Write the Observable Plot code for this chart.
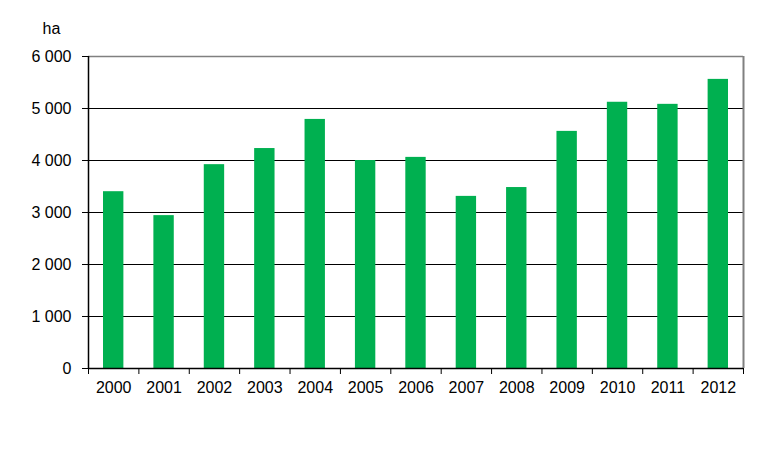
<!DOCTYPE html>
<html>
<head>
<meta charset="utf-8">
<script src="https://cdn.jsdelivr.net/npm/d3@7"></script>
<script src="https://cdn.jsdelivr.net/npm/@observablehq/plot@0.6"></script>
<style>
  html, body { margin: 0; padding: 0; background: #fff; }
  svg { display: block; }
</style>
</head>
<body>
<div id="chart"></div>
<script>
const years = [2000, 2001, 2002, 2003, 2004, 2005, 2006, 2007, 2008, 2009, 2010, 2011, 2012];
const values = [3400, 2940, 3920, 4230, 4790, 4000, 4060, 3310, 3480, 4560, 5120, 5080, 5560];
const yTicks = [0, 1000, 2000, 3000, 4000, 5000, 6000];
const unitLabel = "ha";

const data = years.map((y, i) => ({year: y, value: values[i]}));
const boundaries = years.map(y => y - 0.5).concat([years[years.length - 1] + 0.5]);
const fmt = d => d3.format(",")(d).replace(/,/g, " ");

const chart = Plot.plot({
  width: 765,
  height: 460,
  marginLeft: 88,
  marginRight: 22,
  marginTop: 56,
  marginBottom: 92,
  style: {fontFamily: "'Liberation Sans', Arial, sans-serif", fontSize: "16px", color: "#000", background: "#fff"},
  x: {type: "linear", domain: [boundaries[0], boundaries[boundaries.length - 1]]},
  y: {domain: [0, 6000]},
  marks: [
    Plot.ruleY(yTicks.filter(d => d > 0 && d < 6000), {stroke: "#000", strokeWidth: 1}),
    Plot.rectY(data, {x1: d => d.year - 0.5, x2: d => d.year + 0.5, y1: 0, y2: "value", fill: "#00B050", insetLeft: 15, insetRight: 15}),
    Plot.ruleY([6000], {stroke: "#808080", strokeWidth: 1.5}),
    Plot.ruleX([boundaries[boundaries.length - 1]], {stroke: "#808080", strokeWidth: 2}),
    Plot.ruleX([boundaries[0]], {stroke: "#000", strokeWidth: 1.5}),
    Plot.ruleY([0], {stroke: "#000", strokeWidth: 1.5}),
    Plot.axisY({ticks: yTicks, tickFormat: fmt, tickSize: 6, tickPadding: 11, stroke: "#000", fill: "#000", label: null, fontSize: 16}),
    Plot.axisX({ticks: boundaries, tickFormat: () => "", tickSize: 6, stroke: "#000", label: null}),
    Plot.axisX({ticks: years, tickFormat: d => String(d), tickSize: 0, tickPadding: 13, fill: "#000", label: null, fontSize: 16}),
    Plot.text([unitLabel], {frameAnchor: "top-left", dx: -46, dy: -34, fontSize: 16, fill: "#000", textAnchor: "start"})
  ]
});
document.getElementById("chart").appendChild(chart);
</script>
</body>
</html>
